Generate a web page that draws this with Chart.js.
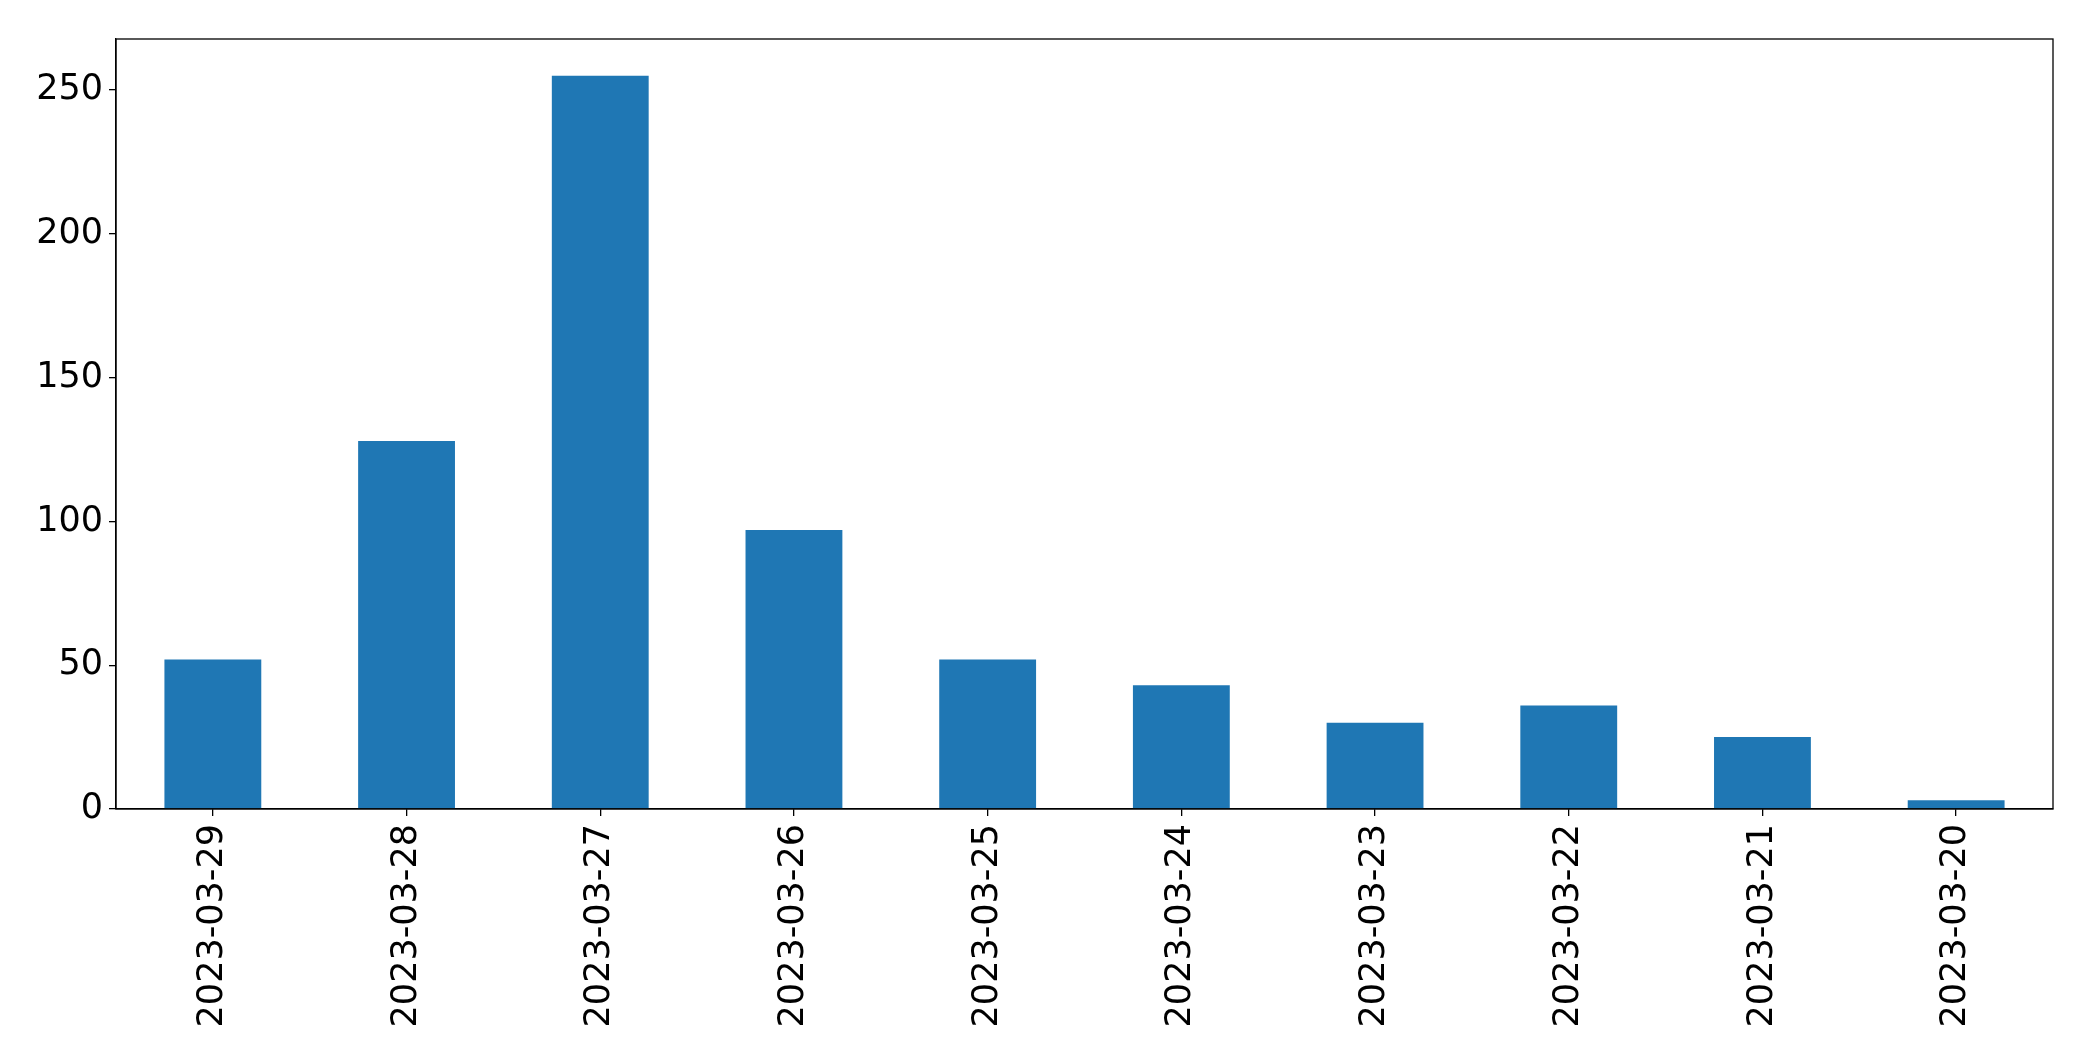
<!DOCTYPE html>
<html>
<head>
<meta charset="utf-8">
<script src="https://cdn.jsdelivr.net/npm/chart.js@4"></script>
<style>
  html, body { margin: 0; padding: 0; background: #fff; }
  #wrap { width: 2093px; height: 1061px; }
</style>
</head>
<body>
<div id="wrap"><canvas id="chart" width="2093" height="1061"></canvas></div>
<script>
// data
const dates = ['2023-03-29', '2023-03-28', '2023-03-27', '2023-03-26', '2023-03-25',
               '2023-03-24', '2023-03-23', '2023-03-22', '2023-03-21', '2023-03-20'];
const counts = [52, 128, 255, 97, 52, 43, 30, 36, 25, 3];
const yTicks = [0, 50, 100, 150, 200, 250];
const yMax = 267.75;

// frame on top/right like matplotlib's box
const frame = {
  id: 'frame',
  afterDraw(chart) {
    const { ctx, chartArea: a } = chart;
    ctx.save();
    ctx.strokeStyle = '#000';
    ctx.lineWidth = 1.3;
    ctx.strokeRect(a.left, a.top, a.right - a.left, a.bottom - a.top);
    ctx.restore();
  }
};

const tickFont = { family: 'DejaVu Sans', size: 35 };

new Chart(document.getElementById('chart'), {
  type: 'bar',
  data: {
    labels: dates,
    datasets: [{
      data: counts,
      backgroundColor: '#1f77b4',
      barPercentage: 0.5,
      categoryPercentage: 1.0
    }]
  },
  options: {
    responsive: false,
    animation: false,
    layout: { padding: { top: 39, right: 40, left: 0, bottom: 0 } },
    plugins: { legend: { display: false }, tooltip: { enabled: false } },
    scales: {
      x: {
        offset: true,
        grid: { offset: false, drawOnChartArea: false, drawTicks: true, tickLength: 7, color: '#000', lineWidth: 1.3 },
        border: { display: true, color: '#000', width: 1.3 },
        ticks: { color: '#000', font: tickFont, minRotation: 90, maxRotation: 90, padding: 8, autoSkip: false },
        afterFit(scale) { scale.height = 252; }
      },
      y: {
        min: 0,
        max: yMax,
        grid: { drawOnChartArea: false, drawTicks: true, tickLength: 7, color: '#000', lineWidth: 1.3 },
        border: { display: true, color: '#000', width: 1.3 },
        ticks: { color: '#000', font: tickFont, padding: 6 },
        afterBuildTicks(scale) { scale.ticks = yTicks.map(v => ({ value: v })); },
        afterFit(scale) { scale.width = 116; }
      }
    }
  },
  plugins: [frame]
});
</script>
</body>
</html>
